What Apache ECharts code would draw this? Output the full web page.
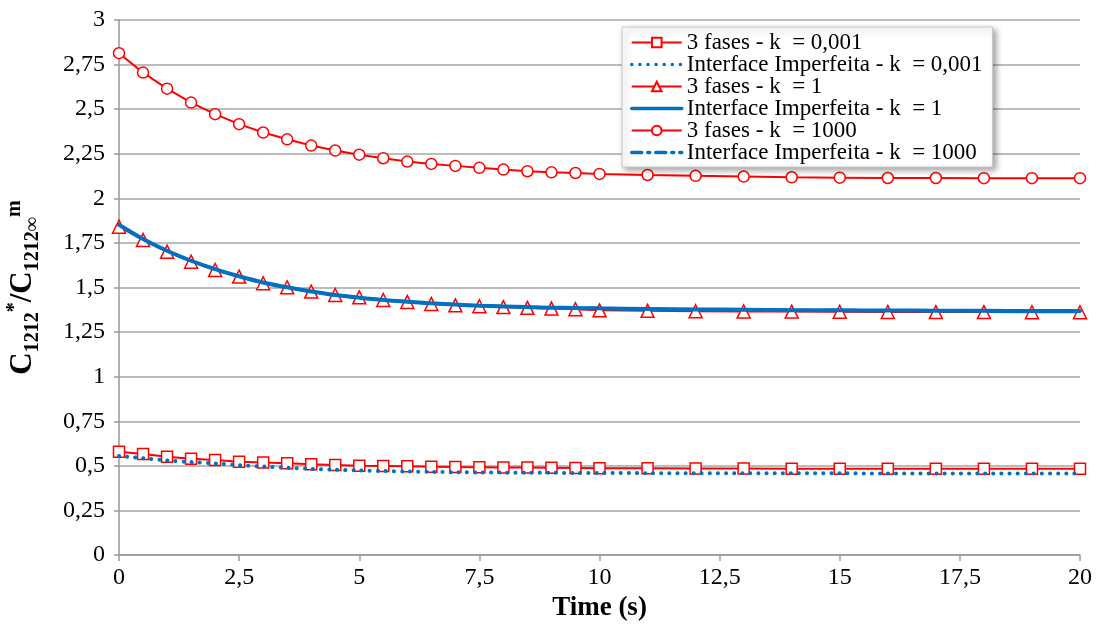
<!DOCTYPE html>
<html>
<head>
<meta charset="utf-8">
<script src="https://cdn.jsdelivr.net/npm/echarts@6/dist/echarts.min.js"></script>
<style>
html,body{margin:0;padding:0;background:#fff;}
#chart{width:1096px;height:626px;}
</style>
</head>
<body>
<div id="chart"></div>
<script>
// ---- data ----
var timeValues = [0,0.5,1,1.5,2,2.5,3,3.5,4,4.5,5,5.5,6,6.5,7,7.5,8,8.5,9,9.5,10,11,12,13,14,15,16,17,18,19,20];
var xTicks = [0,2.5,5,7.5,10,12.5,15,17.5,20];
var yTicks = [0,0.25,0.5,0.75,1,1.25,1.5,1.75,2,2.25,2.5,2.75,3];

var fases_k0001 = [0.579,0.566,0.551,0.540,0.533,0.523,0.518,0.514,0.509,0.505,0.501,0.499,0.497,0.495,0.493,0.492,0.491,0.490,0.489,0.488,0.487,0.486,0.485,0.485,0.484,0.484,0.483,0.483,0.483,0.483,0.483];
var interf_k0001 = [0.555,0.542,0.530,0.521,0.514,0.504,0.496,0.489,0.483,0.478,0.474,0.471,0.468,0.466,0.464,0.463,0.462,0.461,0.461,0.460,0.460,0.459,0.459,0.458,0.458,0.458,0.457,0.457,0.457,0.457,0.457];
var fases_k1 = [1.841,1.767,1.701,1.645,1.598,1.561,1.524,1.501,1.477,1.458,1.445,1.430,1.419,1.408,1.400,1.395,1.390,1.386,1.382,1.378,1.372,1.369,1.367,1.366,1.365,1.364,1.363,1.362,1.362,1.361,1.361];
var interf_k1 = [1.852,1.772,1.706,1.650,1.603,1.563,1.528,1.501,1.478,1.458,1.443,1.430,1.420,1.411,1.404,1.398,1.394,1.390,1.387,1.385,1.383,1.380,1.377,1.375,1.373,1.372,1.371,1.370,1.369,1.368,1.368];
var fases_k1000 = [2.814,2.705,2.615,2.537,2.472,2.416,2.369,2.331,2.296,2.268,2.245,2.225,2.206,2.193,2.182,2.171,2.161,2.152,2.146,2.142,2.137,2.131,2.126,2.122,2.118,2.116,2.114,2.114,2.113,2.113,2.113];
var interf_k1000 = [1.852,1.772,1.706,1.650,1.603,1.563,1.528,1.501,1.478,1.458,1.443,1.430,1.420,1.411,1.404,1.398,1.394,1.390,1.387,1.385,1.383,1.380,1.377,1.375,1.373,1.372,1.371,1.370,1.369,1.368,1.368];

var seriesNames = [
  '3 fases - k  = 0,001',
  'Interface Imperfeita - k  = 0,001',
  '3 fases - k  = 1',
  'Interface Imperfeita - k  = 1',
  '3 fases - k  = 1000',
  'Interface Imperfeita - k  = 1000'
];

// ---- build ----
function pairs(vals){ return timeValues.map(function(t,i){ return [t, vals[i]]; }); }
function fmt(v){ return String(v).replace('.', ','); }

var RED = '#ff0000', BLUE = '#0070c0';
var FONT = '"Liberation Serif", "Times New Roman", serif';

function redSeries(name, vals, symbol, size){
  return {
    name: name, type: 'line', data: pairs(vals), z: 2,
    symbol: symbol, symbolSize: size, showSymbol: true,
    lineStyle: {color: RED, width: 2},
    itemStyle: {color: '#fff', borderColor: RED, borderWidth: 1.5},
    animation: false
  };
}
function blueSeries(name, vals, type, width){
  return {
    name: name, type: 'line', data: pairs(vals), z: 3,
    symbol: 'none', smooth: 0.3,
    lineStyle: {color: BLUE, width: width, type: type, cap: 'round'},
    itemStyle: {color: BLUE},
    animation: false
  };
}

var legendData = seriesNames.map(function(n, i){
  return i % 2 === 1 ? {name: n, itemStyle: {opacity: 0}, lineStyle: {width: 3.5}} : {name: n};
});

var chart = echarts.init(document.getElementById('chart'));
chart.setOption({
  backgroundColor: '#fff',
  animation: false,
  grid: {left: 119, right: 16, top: 20, bottom: 71, containLabel: false, outerBoundsMode: 'none'},
  legend: {
    orient: 'vertical', left: 622, top: 27,
    data: legendData,
    itemWidth: 50, itemHeight: 12, itemGap: -1,
    padding: [4, 10, 3, 8],
    backgroundColor: '#fff',
    borderColor: '#c8c8c8', borderWidth: 1,
    shadowBlur: 6, shadowColor: 'rgba(0,0,0,0.35)', shadowOffsetX: 3, shadowOffsetY: 3,
    textStyle: {fontFamily: FONT, fontSize: 23, lineHeight: 20, color: '#000'}
  },
  xAxis: {
    type: 'value', min: 0, max: 20, interval: 2.5,
    name: 'Time (s)', nameLocation: 'middle', nameGap: 36,
    nameTextStyle: {fontFamily: FONT, fontSize: 27, fontWeight: 'bold', color: '#000'},
    axisLine: {show: true, lineStyle: {color: '#999', width: 1.5}},
    axisTick: {show: true, length: 6, lineStyle: {color: '#999', width: 1.5}},
    axisLabel: {fontFamily: FONT, fontSize: 24, color: '#000', margin: 11, formatter: fmt},
    splitLine: {show: false}
  },
  yAxis: {
    type: 'value', min: 0, max: 3, interval: 0.25,
    name: '{b|C}{sub|1212}{sup|*}{b|/C}{sub|1212∞}{sup|m}',
    nameLocation: 'middle', nameGap: 74, nameRotate: 90,
    nameTextStyle: {
      fontFamily: FONT, color: '#000',
      rich: {
        b: {fontFamily: FONT, fontSize: 31, fontWeight: 'bold', color: '#000', lineHeight: 44, verticalAlign: 'middle'},
        sub: {fontFamily: FONT, fontSize: 20, fontWeight: 'bold', color: '#000', lineHeight: 44, verticalAlign: 'bottom', padding: [0,0,2,0]},
        sup: {fontFamily: FONT, fontSize: 20, fontWeight: 'bold', color: '#000', lineHeight: 44, verticalAlign: 'top', padding: [4,0,0,0]}
      }
    },
    axisLine: {show: true, lineStyle: {color: '#999', width: 1.5}},
    axisTick: {show: true, length: 5, lineStyle: {color: '#999', width: 1.5}},
    axisLabel: {fontFamily: FONT, fontSize: 24, color: '#000', margin: 14, formatter: fmt},
    splitLine: {show: true, lineStyle: {color: '#a6a6a6', width: 1.5}}
  },
  series: [
    redSeries(seriesNames[0], fases_k0001, 'rect', 11),
    blueSeries(seriesNames[1], interf_k0001, [0.1, 8], 4),
    redSeries(seriesNames[2], fases_k1, 'triangle', 13),
    blueSeries(seriesNames[3], interf_k1, 'solid', 4),
    redSeries(seriesNames[4], fases_k1000, 'circle', 11),
    blueSeries(seriesNames[5], interf_k1000, [10, 6, 2, 6], 3)
  ]
});
</script>
</body>
</html>
